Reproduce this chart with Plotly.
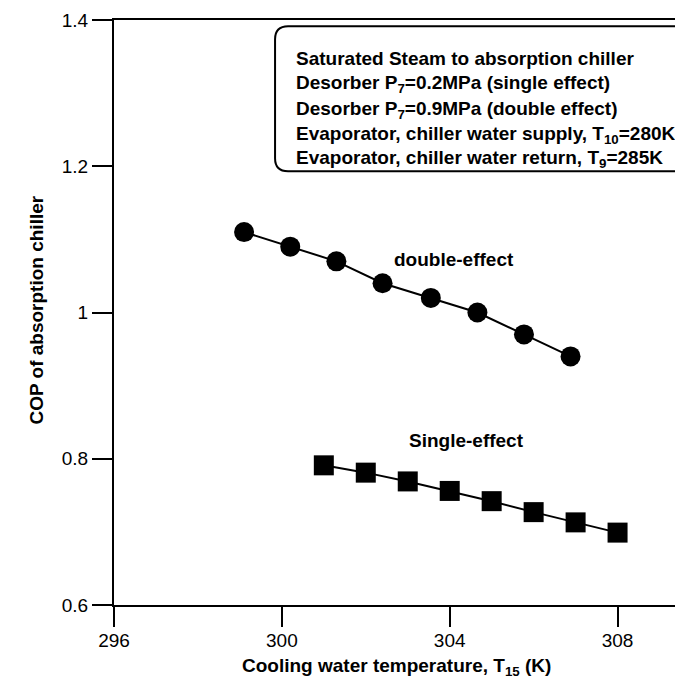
import plotly.graph_objects as go

# Data
double_T = [299.1, 300.2, 301.3, 302.4, 303.55, 304.66, 305.77, 306.88]
double_cop = [1.11, 1.09, 1.07, 1.04, 1.02, 1.00, 0.97, 0.94]
single_T = [301, 302, 303, 304, 305, 306, 307, 308]
single_cop = [0.791, 0.781, 0.769, 0.756, 0.742, 0.727, 0.713, 0.699]
x_ticks = [296, 300, 304, 308]
y_ticks = [0.6, 0.8, 1.0, 1.2, 1.4]
y_tick_labels = ["0.6", "0.8", "1", "1.2", "1.4"]
info_lines = [
    "Saturated Steam to absorption chiller",
    "Desorber P<sub>7</sub>=0.2MPa (single effect)",
    "Desorber P<sub>7</sub>=0.9MPa (double effect)",
    "Evaporator, chiller water supply, T<sub>10</sub>=280K",
    "Evaporator, chiller water return, T<sub>9</sub>=285K",
]

W, H = 683, 679
L, R, T, B = 105.5, 0, 12, 82
pw, ph = W - L - R, H - T - B

def px(x):
    return (x - L) / pw

def py(y):
    return (H - B - y) / ph

FONT = "Liberation Sans, Arial, Helvetica, sans-serif"
FS = 19

fig = go.Figure()
fig.add_trace(go.Scatter(x=double_T, y=double_cop, mode="lines+markers",
                         line=dict(color="black", width=2),
                         marker=dict(symbol="circle", size=20, color="black"),
                         showlegend=False))
fig.add_trace(go.Scatter(x=single_T, y=single_cop, mode="lines+markers",
                         line=dict(color="black", width=2),
                         marker=dict(symbol="square", size=20, color="black"),
                         showlegend=False))

# rounded info box
x0, x1, y0, y1, r = 266.7, 681.7, 18.3, 163.3, 13
def P(x, y):
    return f"{px(x):.5f},{py(y):.5f}"
path = (f"M {P(x0 + r, y0)} L {P(x1 - r, y0)} Q {P(x1, y0)} {P(x1, y0 + r)} "
        f"L {P(x1, y1 - r)} Q {P(x1, y1)} {P(x1 - r, y1)} "
        f"L {P(x0 + r, y1)} Q {P(x0, y1)} {P(x0, y1 - r)} "
        f"L {P(x0, y0 + r)} Q {P(x0, y0)} {P(x0 + r, y0)} Z")
fig.add_shape(type="path", path=path, xref="paper", yref="paper",
              line=dict(color="black", width=2), fillcolor="white")

line_y = [51, 76, 102, 127, 151]
for txt, yy in zip(info_lines, line_y):
    fig.add_annotation(x=px(285.5), y=py(yy), xref="paper", yref="paper",
                       text=txt, showarrow=False, xanchor="left", yanchor="middle",
                       font=dict(family=FONT, size=FS, color="black", weight="bold"))

fig.add_annotation(x=px(445.5), y=py(251), xref="paper", yref="paper",
                   text="double-effect", showarrow=False,
                   font=dict(family=FONT, size=FS, color="black", weight="bold"))
fig.add_annotation(x=px(458), y=py(445), xref="paper", yref="paper",
                   text="Single-effect", showarrow=False,
                   font=dict(family=FONT, size=FS, color="black", weight="bold"))

# axis titles
fig.add_annotation(x=px(388.5), y=py(659), xref="paper", yref="paper",
                   text="Cooling water temperature, T<sub>15</sub> (K)", showarrow=False,
                   xanchor="center", yanchor="middle",
                   font=dict(family=FONT, size=FS, color="black", weight="bold"))
fig.add_annotation(x=px(27), y=py(302), xref="paper", yref="paper",
                   text="COP of absorption chiller", showarrow=False, textangle=-90,
                   xanchor="center", yanchor="middle",
                   font=dict(family=FONT, size=FS, color="black", weight="bold"))

fig.update_layout(
    width=W, height=H,
    margin=dict(l=L, r=R, t=T, b=B, pad=0),
    paper_bgcolor="white", plot_bgcolor="white",
    font=dict(family=FONT, size=FS, color="black"),
    xaxis=dict(range=[296, 296 + pw / 42.0], tickvals=x_ticks,
               ticks="outside", ticklen=20, tickwidth=2, tickcolor="black",
               showline=True, linewidth=2, linecolor="black", mirror=True,
               showgrid=False, zeroline=False, ticklabelstandoff=-3,
               tickfont=dict(family=FONT, size=FS)),
    yaxis=dict(range=[0.6, 1.4], tickvals=y_ticks, ticktext=y_tick_labels,
               ticks="outside", ticklen=20, tickwidth=2, tickcolor="black",
               showline=True, linewidth=2, linecolor="black",
               showgrid=False, zeroline=False,
               tickfont=dict(family=FONT, size=FS)),
)

fig.write_html("out.html")
